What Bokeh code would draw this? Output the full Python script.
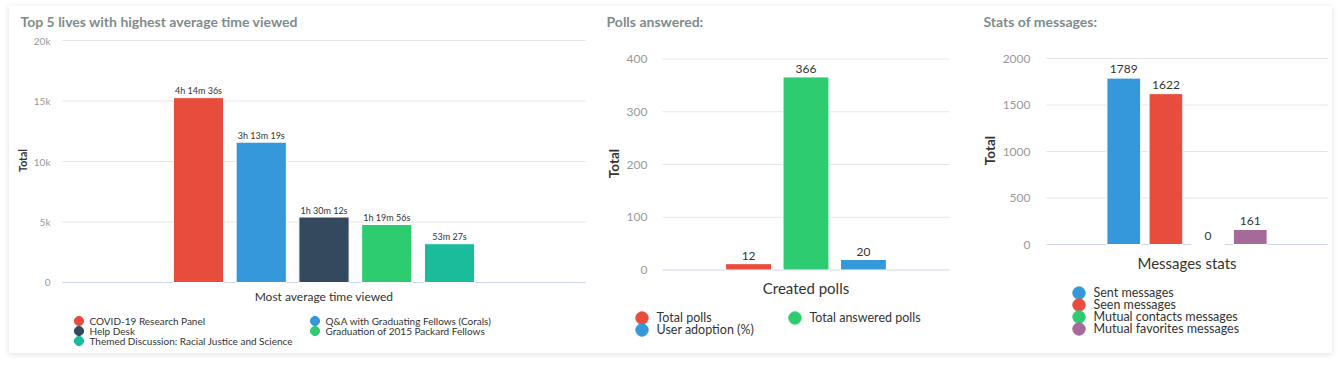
import math
from bokeh.plotting import figure
from bokeh.models import Range1d, Label, Legend, LegendItem, ColumnDataSource
from bokeh.layouts import row
from bokeh.embed import file_html
from bokeh.resources import INLINE
from bokeh.core.properties import value

FONT = "Lato"

# ---------------- data ----------------
lives = ["COVID-19 Research Panel", "Q&A with Graduating Fellows (Corals)", "Help Desk",
         "Graduation of 2015 Packard Fellows", "Themed Discussion: Racial Justice and Science"]
lives_seconds = [15276, 11599, 5412, 4796, 3207]
lives_labels = ["4h 14m 36s", "3h 13m 19s", "1h 30m 12s", "1h 19m 56s", "53m 27s"]
lives_colors = ["#e74c3c", "#3498db", "#34495e", "#2ecc71", "#1abc9c"]
lives_ticks = [0, 5000, 10000, 15000, 20000]
lives_tick_labels = ["0", "5k", "10k", "15k", "20k"]

polls = ["Total polls", "Total answered polls", "User adoption (%)"]
polls_values = [12, 366, 20]
polls_labels = ["12", "366", "20"]
polls_colors = ["#e74c3c", "#2ecc71", "#3498db"]
polls_ticks = [0, 100, 200, 300, 400]
polls_tick_labels = ["0", "100", "200", "300", "400"]

msgs = ["Sent messages", "Seen messages", "Mutual contacts messages", "Mutual favorites messages"]
msgs_values = [1789, 1622, 0, 161]
msgs_labels = ["1789", "1622", "0", "161"]
msgs_colors = ["#3498db", "#e74c3c", "#2ecc71", "#a5699a"]
msgs_ticks = [0, 500, 1000, 1500, 2000]
msgs_tick_labels = ["0", "500", "1000", "1500", "2000"]

# ---------------- layout constants (page pixels) ----------------
CARD_L, CARD_T, CARD_B = 9, 6, 353
HEIGHT = CARD_B - CARD_T
GROUP_PAD, POINT_PAD = 0.2, 0.1     # column chart category / point padding


def make_panel(names, vals, texts, colors, ticks, tick_labels, *, x0, x1, plot_l, plot_r,
               zero_px, top_px, title, title_x, x_title, xtitle_y, tick_fs, tick_standoff,
               ytitle, ytitle_fs, val_fs, val_offset, xtitle_fs):
    width = x1 - x0
    # x data units: 0 at plot left, 1 at plot right
    span = plot_r - plot_l
    x_range = Range1d((x0 - plot_l) / span, (x1 - plot_l) / span)
    # y data units: value 0 at zero_px, top tick at top_px
    per_px = (ticks[-1] - ticks[0]) / (zero_px - top_px)
    y_range = Range1d(ticks[0] - (CARD_B - zero_px) * per_px,
                      ticks[-1] + (top_px - CARD_T) * per_px)
    p = figure(width=width, height=HEIGHT, x_range=x_range, y_range=y_range,
               x_axis_location=None, y_axis_location=None, min_border=0,
               output_backend="svg", toolbar_location=None)
    p.outline_line_color = None
    p.background_fill_color = "white"
    p.border_fill_color = "white"
    p.xgrid.visible = False
    p.ygrid.visible = False

    # grid lines + baseline, from the tick values
    tick_src = ColumnDataSource(dict(
        tick=ticks, label=tick_labels,
        color=["#ccd6eb" if t == ticks[0] else "#e6e6e6" for t in ticks]))
    p.segment(x0=0, x1=1, y0="tick", y1="tick", source=tick_src, line_color="color", line_width=1)
    p.text(x=0, y="tick", text="label", source=tick_src, x_offset=-tick_standoff,
           text_align="right", text_baseline="middle", text_font=value(FONT),
           text_font_size=tick_fs, text_color="#999999")

    # bars (one category, n series, Highcharts-style padding)
    n = len(names)
    slot = (1 - 2 * GROUP_PAD) / n
    xs = [GROUP_PAD + slot * (i + 0.5) for i in range(n)]
    src = ColumnDataSource(dict(x=xs, name=names, value=vals, label=texts, color=colors))
    p.vbar(x="x", top="value", width=slot * (1 - 2 * POINT_PAD), source=src,
           fill_color="color", line_color="white", line_width=1)
    p.text(x="x", y="value", text="label", source=src, text_align="center",
           text_baseline="middle", y_offset=val_offset, text_font=value(FONT),
           text_font_size=val_fs, text_color="#333333")

    # titles
    p.add_layout(Label(x=title_x - x0, y=CARD_B - 21, x_units="screen", y_units="screen",
                       text=title, text_font=FONT, text_font_style="bold",
                       text_font_size="14px", text_color="#7f8c8d", text_baseline="middle"))
    p.add_layout(Label(x=ytitle[0] - x0, y=CARD_B - ytitle[1], x_units="screen", y_units="screen",
                       text="Total", angle=math.pi / 2, text_font=FONT, text_font_style="bold",
                       text_font_size=ytitle_fs, text_color="#333333",
                       text_align="center", text_baseline="middle"))
    p.add_layout(Label(x=(plot_l + plot_r) / 2 - x0, y=CARD_B - xtitle_y, x_units="screen",
                       y_units="screen", text=x_title, text_font=FONT,
                       text_font_size=xtitle_fs, text_color="#333333",
                       text_align="center", text_baseline="middle"))
    return p, src


def add_legend_rows(p, src, x0, idx, rows_y, *, dot_x, dot, fs, weight, text_gap):
    box = int(round(dot / 0.4))          # legend markers are drawn at 0.4 x glyph box
    for i, cy in zip(idx, rows_y):
        c = src.data["color"][i]
        r = p.scatter(x="x", y="value", source=src, marker="circle", fill_color=c,
                      line_color=c, visible=False)
        lg = Legend(items=[LegendItem(label=src.data["name"][i], renderers=[r], index=i)],
                    location=(dot_x - box / 2 - x0, CARD_B - cy - box / 2),
                    orientation="vertical", padding=0, margin=0, spacing=0,
                    label_standoff=int(round(text_gap - box / 2)), glyph_width=box,
                    glyph_height=box, label_height=box, label_text_font=FONT,
                    label_text_font_size=fs, label_text_font_style=weight,
                    label_text_color="#333333", border_line_color=None,
                    background_fill_alpha=0)
        p.add_layout(lg)


# ---------------- panel 1 ----------------
p1, s1 = make_panel(lives, lives_seconds, lives_labels, lives_colors, lives_ticks, lives_tick_labels,
                    x0=CARD_L, x1=600, plot_l=62, plot_r=585, zero_px=282, top_px=40,
                    title="Top 5 lives with highest average time viewed", title_x=20,
                    x_title="Most average time viewed", xtitle_y=296, tick_fs="10px",
                    tick_standoff=12, ytitle=(22, 160), ytitle_fs="10.5px",
                    val_fs="9px", val_offset=-7, xtitle_fs="12px")
add_legend_rows(p1, s1, CARD_L, [0, 2, 4], [320.7, 330.7, 340.7], dot_x=78, dot=9.2,
                fs="10px", weight="normal", text_gap=10)
add_legend_rows(p1, s1, CARD_L, [1, 3], [320.7, 330.7], dot_x=314, dot=9.2,
                fs="10px", weight="normal", text_gap=10)

# ---------------- panel 2 ----------------
p2, s2 = make_panel(polls, polls_values, polls_labels, polls_colors, polls_ticks, polls_tick_labels,
                    x0=600, x1=968, plot_l=662, plot_r=949, zero_px=269.5, top_px=58.5,
                    title="Polls answered:", title_x=606,
                    x_title="Created polls", xtitle_y=287, tick_fs="12px", tick_standoff=15,
                    ytitle=(613, 163), ytitle_fs="13.5px",
                    val_fs="12px", val_offset=-7.5, xtitle_fs="15px")
add_legend_rows(p2, s2, 600, [0, 2], [317, 329], dot_x=641, dot=12.4,
                fs="12.5px", weight="normal", text_gap=14)
add_legend_rows(p2, s2, 600, [1], [317], dot_x=794, dot=12.4,
                fs="12.5px", weight="normal", text_gap=14)

# ---------------- panel 3 ----------------
p3, s3 = make_panel(msgs, msgs_values, msgs_labels, msgs_colors, msgs_ticks, msgs_tick_labels,
                    x0=968, x1=1332, plot_l=1046, plot_r=1327, zero_px=244, top_px=58,
                    title="Stats of messages:", title_x=983,
                    x_title="Messages stats", xtitle_y=262, tick_fs="12px", tick_standoff=16,
                    ytitle=(989, 150), ytitle_fs="13.5px",
                    val_fs="12px", val_offset=-9, xtitle_fs="15px")
add_legend_rows(p3, s3, 968, [0, 1, 2, 3], [292, 304, 316, 328], dot_x=1078, dot=12.4,
                fs="12.5px", weight="normal", text_gap=14)

layout = row(p1, p2, p3, margin=(CARD_T, 0, 0, CARD_L),
             styles={"box-shadow": "0 1px 6px rgba(0,0,0,0.13)"})

open("out.html", "w").write(file_html(layout, INLINE))
